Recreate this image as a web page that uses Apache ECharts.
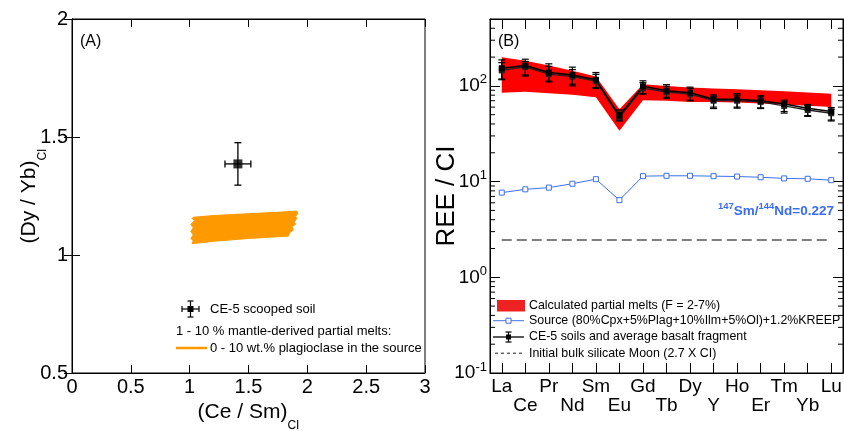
<!DOCTYPE html>
<html><head><meta charset="utf-8">
<script src="https://cdn.jsdelivr.net/npm/echarts@6/dist/echarts.min.js"></script>
<style>html,body{margin:0;padding:0;background:#fff}#c{width:844px;height:431px}</style>
</head><body><div id="c"></div>
<script>
// ---------- Panel A data ----------
const soilCeSm = [1.41];
const soilDyYb = [1.386];
const soilCeSmErr = [0.11];
const soilDyYbErr = [0.09];
// outline of the modelled partial-melt field (Ce/Sm, Dy/Yb)
const meltFieldCeSm = [1.03,1.20,1.50,1.75,1.91,1.92,1.90,1.91,1.89,1.90,1.87,1.88,1.85,1.84,1.50,1.20,1.02,1.03,1.01,1.03,1.01,1.03,1.01,1.04,1.02];
const meltFieldDyYb = [1.160,1.167,1.175,1.181,1.186,1.175,1.165,1.155,1.140,1.130,1.120,1.105,1.095,1.080,1.070,1.058,1.048,1.060,1.070,1.085,1.100,1.115,1.130,1.145,1.155];

// ---------- Panel B data ----------
const elements = ['La','Ce','Pr','Nd','Sm','Eu','Gd','Tb','Dy','Y','Ho','Er','Tm','Yb','Lu'];
const meltTop    = [199,183,163,144,125,57,104,100,96,94,92,90,88,85.5,83];
const meltBottom = [85,87,84,81,76,34,71,70,68,68,67,65.5,64,62,60];
const sourceREE  = [7.67,8.3,8.65,9.5,10.6,6.4,11.4,11.5,11.5,11.4,11.3,11.1,10.8,10.7,10.35];
const soilA   = [153,163,138,130,116,49,99,89,85,72.5,72.5,70,64.8,58.5,54];
const soilAHi = [187,190,170,157,138,56,113,103,97,80.5,83,79,71,64,59.4];
const soilALo = [116,127,110,100,94,44,82,74,70,58,58.5,58,52,48,43];
const soilB   = [145,158,133,125,112,47,95,86,82,70,70,68,61.8,56,51.8];
const soilBHi = [175,180,160,148,132,53,108,99,94,78,80,77,68,62,57];
const soilBLo = [118,130,112,104,96,43,83,76,71,60,60,59,54,49,44];
const bulkMoon = [2.45,2.45,2.45,2.45,2.45,2.45,2.45,2.45,2.45,2.45,2.45,2.45,2.45,2.45,2.45];
const minorTickValues = [0.2,0.3,0.4,0.5,0.6,0.7,0.8,0.9,2,3,4,5,6,7,8,9,20,30,40,50,60,70,80,90,200,300,400];

const FONT = '"Liberation Sans", Arial, Helvetica, sans-serif';
const BLUE = '#3f6fe8';

function errXY(params, api){
  const x=api.value(0), y=api.value(1), ex=api.value(2), ey=api.value(3);
  const l=api.coord([x-ex,y]), r=api.coord([x+ex,y]), t=api.coord([x,y+ey]), b=api.coord([x,y-ey]);
  const st={stroke:'#000',lineWidth:1.3}, c=3.5;
  return {type:'group',children:[
    {type:'line',shape:{x1:l[0],y1:l[1],x2:r[0],y2:r[1]},style:st},
    {type:'line',shape:{x1:l[0],y1:l[1]-c,x2:l[0],y2:l[1]+c},style:st},
    {type:'line',shape:{x1:r[0],y1:r[1]-c,x2:r[0],y2:r[1]+c},style:st},
    {type:'line',shape:{x1:t[0],y1:t[1],x2:b[0],y2:b[1]},style:st},
    {type:'line',shape:{x1:t[0]-c,y1:t[1],x2:t[0]+c,y2:t[1]},style:st},
    {type:'line',shape:{x1:b[0]-c,y1:b[1],x2:b[0]+c,y2:b[1]},style:st}
  ]};
}
function errV(params, api){
  const i=api.value(0);
  const t=api.coord([i,api.value(2)]), b=api.coord([i,api.value(1)]);
  const st={stroke:'#000',lineWidth:1.2}, c=3.5;
  return {type:'group',children:[
    {type:'line',shape:{x1:t[0],y1:t[1],x2:b[0],y2:b[1]},style:st},
    {type:'line',shape:{x1:t[0]-c,y1:t[1],x2:t[0]+c,y2:t[1]},style:st},
    {type:'line',shape:{x1:b[0]-c,y1:b[1],x2:b[0]+c,y2:b[1]},style:st}
  ]};
}

const chart = echarts.init(document.getElementById('c'), null, {renderer:'canvas'});
const tickA = {show:true, inside:true, length:8, lineStyle:{color:'#000',width:1}};
const tickB = {show:true, inside:true, length:10, lineStyle:{color:'#000',width:1}};
const axLine = {show:true, lineStyle:{color:'#000',width:1}};
const labA = {fontSize:20, color:'#000', fontFamily:FONT};
const subRich = {sub:{fontSize:12, lineHeight:40, verticalAlign:'bottom', fontFamily:FONT, color:'#000'}};
const legFontA = 13, legFontB = 12.4;

chart.setOption({
  animation:false,
  textStyle:{fontFamily:FONT},
  grid:[
    {left:72, top:19, width:353, height:354, show:true, borderColor:'#000', borderWidth:1, outerBoundsMode:'none', containLabel:false},
    {left:490, top:19, width:353, height:354, show:true, borderColor:'#000', borderWidth:1, outerBoundsMode:'none', containLabel:false}
  ],
  xAxis:[
    {gridIndex:0, type:'value', min:0, max:3, interval:0.5, position:'bottom',
     axisLine:axLine, axisTick:tickA, splitLine:{show:false},
     axisLabel:Object.assign({margin:4}, labA),
     name:'(Ce / Sm){sub|CI}', nameLocation:'middle', nameGap:19, nameMoveOverlap:false,
     nameTextStyle:{fontSize:21, color:'#000', fontFamily:FONT, rich:subRich}},
    {gridIndex:0, type:'value', min:0, max:3, interval:0.5, position:'top',
     axisLine:axLine, axisTick:tickA, splitLine:{show:false}, axisLabel:{show:false}},
    {gridIndex:1, type:'category', data:elements, boundaryGap:true, position:'bottom',
     axisLine:axLine, axisTick:Object.assign({alignWithLabel:true, interval:0}, tickB),
     axisLabel:{interval:0, margin:4, fontSize:19, lineHeight:19, color:'#000', fontFamily:FONT,
       formatter:(v,i)=> i%2===0 ? v : '\n'+v}},
    {gridIndex:1, type:'category', data:elements, boundaryGap:true, position:'top',
     axisLine:axLine, axisTick:Object.assign({alignWithLabel:true, interval:0}, tickB), axisLabel:{show:false}}
  ],
  yAxis:[
    {gridIndex:0, type:'value', min:0.5, max:2, interval:0.5, position:'left',
     axisLine:axLine, axisTick:tickA, splitLine:{show:false},
     axisLabel:Object.assign({margin:4}, labA),
     name:'(Dy / Yb){sub|CI}', nameLocation:'middle', nameGap:23, nameRotate:90, nameMoveOverlap:false,
     nameTextStyle:{fontSize:21, color:'#000', fontFamily:FONT, rich:subRich}},
    {gridIndex:0, type:'value', min:0.5, max:2, interval:0.5, position:'right',
     axisLine:axLine, axisTick:tickA, splitLine:{show:false}, axisLabel:{show:false}},
    {gridIndex:1, type:'log', logBase:10, min:0.1, max:500, position:'left',
     axisLine:axLine, axisTick:tickB, splitLine:{show:false}, minorTick:{show:false},
     axisLabel:{margin:3, fontSize:19, color:'#000', fontFamily:FONT,
       formatter:v=>{const l=Math.log10(v), e=Math.round(l); return Math.abs(l-e)>1e-6 ? '' : '10{sup|'+e+'}';},
       rich:{sup:{fontSize:13, lineHeight:25, verticalAlign:'top', color:'#000', fontFamily:FONT}}},
     name:'REE / CI', nameLocation:'middle', nameGap:30, nameRotate:90, nameMoveOverlap:false,
     nameTextStyle:{fontSize:26, color:'#000', fontFamily:FONT}},
    {gridIndex:1, type:'log', logBase:10, min:0.1, max:500, position:'right',
     axisLine:axLine, axisTick:tickB, splitLine:{show:false}, axisLabel:{show:false}}
  ],
  series:[
    // Panel A: melt field
    {type:'custom', xAxisIndex:0, yAxisIndex:0, z:2, data:[[meltFieldCeSm[0], meltFieldDyYb[0]]],
     renderItem:(p,api)=>({type:'polygon',
       shape:{points:meltFieldCeSm.map((x,i)=>api.coord([x, meltFieldDyYb[i]]))},
       style:{fill:'#ff9900', stroke:'#ff9900', lineWidth:1}})},
    // Panel A: soil error bars and point
    {type:'custom', xAxisIndex:0, yAxisIndex:0, z:3,
     data:soilCeSm.map((x,i)=>[x, soilDyYb[i], soilCeSmErr[i], soilDyYbErr[i]]), renderItem:errXY},
    {type:'scatter', xAxisIndex:0, yAxisIndex:0, z:4, symbol:'rect', symbolSize:9,
     itemStyle:{color:'#000'}, data:soilCeSm.map((x,i)=>[x, soilDyYb[i]])},
    // Panel B: minor ticks of log axis
    {type:'custom', xAxisIndex:2, yAxisIndex:2, z:1, silent:true,
     data:minorTickValues.map(v=>[0,v]),
     renderItem:(p,api)=>{const y=api.coord([0,api.value(1)])[1]; const cs=p.coordSys;
       const st={stroke:'#000',lineWidth:1};
       return {type:'group',children:[
         {type:'line',shape:{x1:cs.x,y1:y,x2:cs.x+5,y2:y},style:st},
         {type:'line',shape:{x1:cs.x+cs.width-5,y1:y,x2:cs.x+cs.width,y2:y},style:st}]};}},
    // Panel B: partial melt band
    {type:'custom', xAxisIndex:2, yAxisIndex:2, z:2, data:[[0, meltTop[0]]],
     renderItem:(p,api)=>{
       const pts=meltTop.map((v,i)=>api.coord([i,v])).concat(meltBottom.map((v,i)=>api.coord([i,v])).reverse());
       return {type:'polygon', shape:{points:pts}, style:{fill:'#ff0000'}};}},
    // bulk silicate Moon
    {type:'line', xAxisIndex:2, yAxisIndex:2, z:3, data:bulkMoon, symbol:'none',
     lineStyle:{color:'#555', width:1.5, type:[10,5]}},
    // source
    {type:'line', xAxisIndex:2, yAxisIndex:2, z:4, data:sourceREE, symbol:'rect', symbolSize:5,
     lineStyle:{color:BLUE, width:1}, itemStyle:{color:'#fff', borderColor:BLUE, borderWidth:1}},
    // CE-5 error bars
    {type:'custom', xAxisIndex:2, yAxisIndex:2, z:5, data:elements.map((e,i)=>[i, soilBLo[i], soilBHi[i]]), renderItem:errV},
    {type:'custom', xAxisIndex:2, yAxisIndex:2, z:5, data:elements.map((e,i)=>[i, soilALo[i], soilAHi[i]]), renderItem:errV},
    {type:'line', xAxisIndex:2, yAxisIndex:2, z:6, data:soilB, symbol:'rect', symbolSize:6,
     lineStyle:{color:'#222', width:1.3}, itemStyle:{color:'#222'}},
    {type:'line', xAxisIndex:2, yAxisIndex:2, z:6, data:soilA, symbol:'rect', symbolSize:6,
     lineStyle:{color:'#000', width:1.5}, itemStyle:{color:'#000'}}
  ],
  graphic:[
    {type:'text', x:80, y:42, style:{text:'(A)', fontSize:16, fontFamily:FONT, fill:'#000', textVerticalAlign:'middle'}},
    {type:'text', x:498, y:42, style:{text:'(B)', fontSize:16, fontFamily:FONT, fill:'#000', textVerticalAlign:'middle'}},
    // legend A
    {type:'group', children:[
      {type:'line', shape:{x1:182,y1:309,x2:199,y2:309}, style:{stroke:'#000',lineWidth:1.2}},
      {type:'line', shape:{x1:182,y1:306,x2:182,y2:312}, style:{stroke:'#000',lineWidth:1.2}},
      {type:'line', shape:{x1:199,y1:306,x2:199,y2:312}, style:{stroke:'#000',lineWidth:1.2}},
      {type:'line', shape:{x1:190.5,y1:301,x2:190.5,y2:317}, style:{stroke:'#000',lineWidth:1.2}},
      {type:'line', shape:{x1:187.5,y1:301,x2:193.5,y2:301}, style:{stroke:'#000',lineWidth:1.2}},
      {type:'line', shape:{x1:187.5,y1:317,x2:193.5,y2:317}, style:{stroke:'#000',lineWidth:1.2}},
      {type:'rect', shape:{x:187.5,y:306,width:6,height:6}, style:{fill:'#000'}},
      {type:'text', x:210, y:309, style:{text:'CE-5 scooped soil', fontSize:legFontA, fontFamily:FONT, fill:'#000', textVerticalAlign:'middle'}},
      {type:'text', x:176, y:331, style:{text:'1 - 10 % mantle-derived partial melts:', fontSize:legFontA, fontFamily:FONT, fill:'#000', textVerticalAlign:'middle'}},
      {type:'line', shape:{x1:176,y1:348,x2:207,y2:348}, style:{stroke:'#ff9900',lineWidth:2.5}},
      {type:'text', x:210, y:348, style:{text:'0 - 10 wt.% plagioclase in the source', fontSize:legFontA, fontFamily:FONT, fill:'#000', textVerticalAlign:'middle'}}
    ]},
    // annotation
    {type:'text', x:834, y:211, style:{text:'{sup|147}Sm/{sup|144}Nd=0.227', fontSize:13.5, fontWeight:'bold', fontFamily:FONT, fill:'#3a6cf4',
      textAlign:'right', textVerticalAlign:'middle',
      rich:{sup:{fontSize:9.5, fontWeight:'bold', fontFamily:FONT, fill:'#3a6cf4', lineHeight:20, verticalAlign:'top'}}}},
    // legend B
    {type:'group', children:[
      {type:'rect', shape:{x:497,y:300,width:28,height:11.5}, style:{fill:'#ee2222'}},
      {type:'text', x:529, y:305.7, style:{text:'Calculated partial melts (F = 2-7%)', fontSize:legFontB, fontFamily:FONT, fill:'#000', textVerticalAlign:'middle'}},
      {type:'line', shape:{x1:493,y1:320.7,x2:524,y2:320.7}, style:{stroke:BLUE,lineWidth:1}},
      {type:'rect', shape:{x:506,y:318.2,width:5,height:5}, style:{fill:'#fff',stroke:BLUE,lineWidth:1}},
      {type:'text', x:529, y:320.7, style:{text:'Source (80%Cpx+5%Plag+10%Ilm+5%Ol)+1.2%KREEP', fontSize:legFontB, fontFamily:FONT, fill:'#000', textVerticalAlign:'middle'}},
      {type:'line', shape:{x1:493,y1:337,x2:524,y2:337}, style:{stroke:'#000',lineWidth:1.3}},
      {type:'line', shape:{x1:508.5,y1:332,x2:508.5,y2:342}, style:{stroke:'#000',lineWidth:1.2}},
      {type:'line', shape:{x1:505.5,y1:332,x2:511.5,y2:332}, style:{stroke:'#000',lineWidth:1.2}},
      {type:'line', shape:{x1:505.5,y1:342,x2:511.5,y2:342}, style:{stroke:'#000',lineWidth:1.2}},
      {type:'rect', shape:{x:506,y:334.5,width:5,height:5}, style:{fill:'#000'}},
      {type:'text', x:529, y:337, style:{text:'CE-5 soils and average basalt fragment', fontSize:legFontB, fontFamily:FONT, fill:'#000', textVerticalAlign:'middle'}},
      {type:'line', shape:{x1:495,y1:353.3,x2:525,y2:353.3}, style:{stroke:'#666',lineWidth:1.5,lineDash:[3,3]}},
      {type:'text', x:529, y:353.3, style:{text:'Initial bulk silicate Moon (2.7 X CI)', fontSize:legFontB, fontFamily:FONT, fill:'#000', textVerticalAlign:'middle'}}
    ]}
  ]
});
</script>
</body></html>
